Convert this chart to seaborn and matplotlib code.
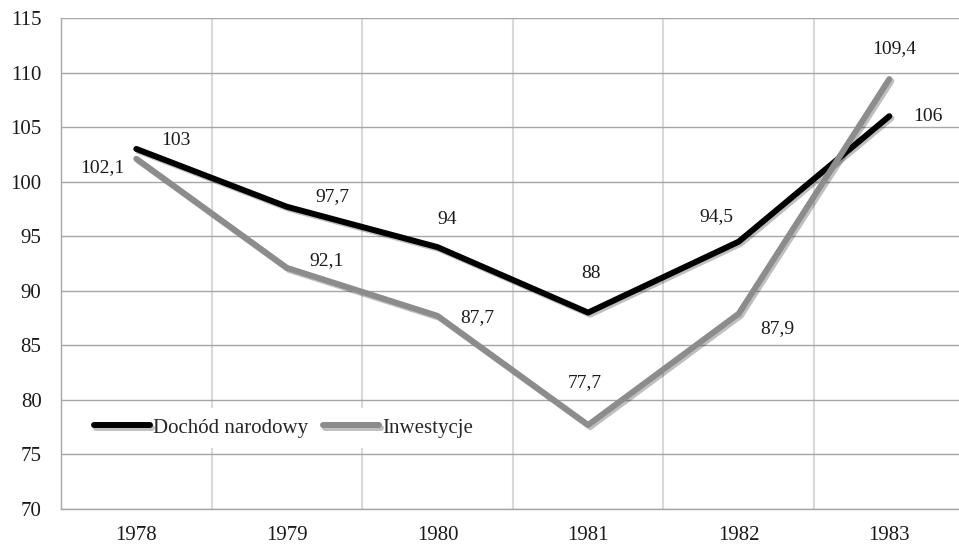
import pandas as pd
import numpy as np
import matplotlib
matplotlib.use('Agg')
import matplotlib.pyplot as plt
import matplotlib.patheffects as pe
from matplotlib.ticker import MultipleLocator, FixedLocator
import seaborn as sns

# dane
lata = ['1978', '1979', '1980', '1981', '1982', '1983']
dochod = [103, 97.7, 94, 88, 94.5, 106]
inwestycje = [102.1, 92.1, 87.7, 77.7, 87.9, 109.4]
serie = ['Dochód narodowy', 'Inwestycje']

df = pd.DataFrame({
    'rok': lata * 2,
    'wartosc': dochod + inwestycje,
    'seria': [serie[0]] * len(lata) + [serie[1]] * len(lata),
})

sns.set_style('white')
plt.rcParams['font.family'] = ['Liberation Serif', 'DejaVu Serif']

fig = plt.figure(figsize=(9.59, 5.47), dpi=100)
ax = fig.add_axes([61 / 959, 38 / 547, 903.6 / 959, 491 / 547])

sns.lineplot(data=df, x='rok', y='wartosc', hue='seria',
             palette={serie[0]: '#000000', serie[1]: '#8c8c8c'},
             linewidth=4.3, ax=ax, legend=True)

for ln in ax.get_lines():
    ln.set_solid_capstyle('round')
    ln.set_path_effects([pe.SimpleLineShadow(offset=(1.5, -1.5), alpha=0.25),
                         pe.Normal()])

# etykiety danych (przesunięcia w pikselach)
off_d = [(40, 8), (46, 10), (10, 28), (3, 39), (-22, 25), (39, 0)]
off_i = [(-34, -9), (40, 7), (40, -2), (-3, 42), (39, -15), (5, 31)]
for vals, offs in [(dochod, off_d), (inwestycje, off_i)]:
    for i, (v, o) in enumerate(zip(vals, offs)):
        txt = f'{v:g}'.replace('.', ',')
        ax.annotate(txt, (i, v), xytext=(o[0] * 0.72, o[1] * 0.72),
                    textcoords='offset points', ha='center', va='center',
                    fontsize=14, color='#1a1a1a')

ax.set_xlim(-0.5, 5.5)
ax.set_ylim(70, 115)
ax.yaxis.set_major_locator(MultipleLocator(5))
ax.xaxis.set_minor_locator(FixedLocator(np.arange(0.5, 5.5, 1)))
ax.grid(True, axis='y', which='major', color='#a6a6a6', linewidth=1)
ax.grid(True, axis='x', which='minor', color='#d9d9d9', linewidth=1.5)
ax.grid(False, axis='x', which='major')
ax.set_axisbelow(True)
ax.tick_params(axis='both', which='both', length=0, labelsize=15, colors='#1a1a1a')
ax.tick_params(axis='y', pad=14)
ax.tick_params(axis='x', pad=12)
ax.set_xlabel('')
ax.set_ylabel('')

for s in ['top', 'right']:
    ax.spines[s].set_visible(False)
for s in ['left', 'bottom']:
    ax.spines[s].set_color('#a6a6a6')
    ax.spines[s].set_linewidth(1)

leg = ax.legend(loc='center left', bbox_to_anchor=(0.013, 0.165), ncol=2,
                frameon=True, fontsize=15, handlelength=2.7, handletextpad=0.15,
                columnspacing=0.7, borderpad=0.5)
leg.get_frame().set_edgecolor('none')
leg.get_frame().set_facecolor('white')
leg.get_frame().set_alpha(1)
for h in leg.get_lines():
    h.set_linewidth(4.3)
    h.set_solid_capstyle('round')

fig.savefig('out.png', dpi=100)
